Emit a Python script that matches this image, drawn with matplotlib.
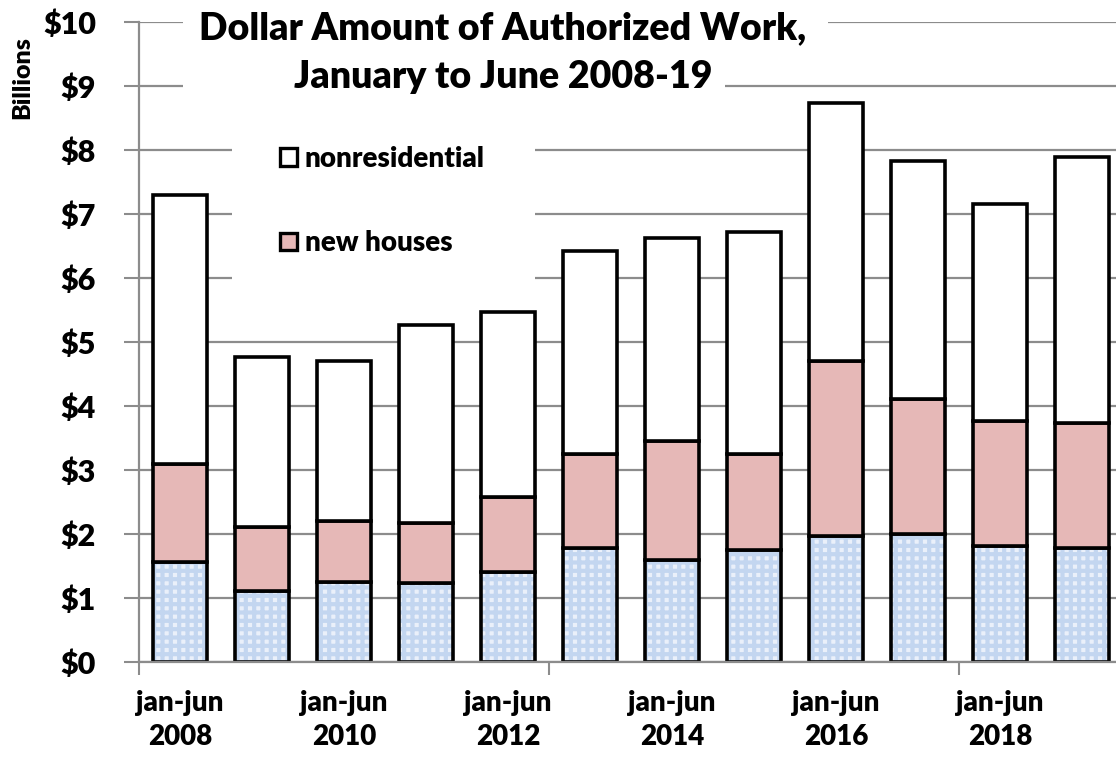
import matplotlib
matplotlib.use("Agg")
import matplotlib.pyplot as plt
from matplotlib.patches import Rectangle, Patch

plt.rcParams['font.family'] = ['Lato', 'DejaVu Sans']
plt.rcParams['font.weight'] = 'heavy'
plt.rcParams['hatch.linewidth'] = 3.0

# Jan-Jun authorized work, $ billions
years = list(range(2008, 2020))
additions = [1.56, 1.11, 1.25, 1.23, 1.41, 1.78, 1.59, 1.75, 1.97, 2.00, 1.81, 1.78]
new_houses = [1.53, 1.00, 0.95, 0.94, 1.17, 1.47, 1.86, 1.50, 2.73, 2.11, 1.96, 1.95]
nonresidential = [4.21, 2.66, 2.50, 3.10, 2.89, 3.17, 3.18, 3.47, 4.03, 3.72, 3.39, 4.16]
tick_labels = [f"jan-jun\n{y}" if y % 2 == 0 else "" for y in years]

W, H = 1116, 759
fig = plt.figure(figsize=(W / 100, H / 100), dpi=100)
ax = fig.add_axes([139 / W, 1 - 662 / H, (W - 139) / W, (662 - 22) / H])

x = list(range(len(years)))
bw = 0.66
pink_bottom = additions
nonres_bottom = [a + n for a, n in zip(additions, new_houses)]

# patterned bottom segment
ax.bar(x, additions, bw, color='#eaf0fa', edgecolor='#c3d6f0', hatch='++', linewidth=0, zorder=2)
ax.bar(x, additions, bw, fill=False, edgecolor='black', linewidth=2.6, zorder=3)
ax.bar(x, new_houses, bw, bottom=pink_bottom, color='#e6b8b7', edgecolor='black', linewidth=2.6, zorder=3)
ax.bar(x, nonresidential, bw, bottom=nonres_bottom, color='white', edgecolor='black', linewidth=2.6, zorder=3)

ax.set_xlim(-0.5, -0.5 + (W - 139) / 82)
ax.set_ylim(0, 10)
ax.set_yticks(range(0, 11))
ax.set_yticklabels([f"${v}" for v in range(0, 11)], fontsize=22)
ax.set_xticks(x)
ax.set_xticklabels(tick_labels, fontsize=20, linespacing=1.4)
ax.tick_params(axis='x', length=0, pad=20)
ax.tick_params(axis='y', length=11, width=1.5, color='#8c8c8c', pad=20)
ax.set_xticks([-0.5, 4.5, 9.5], minor=True)
ax.tick_params(axis='x', which='minor', length=9, width=1.5, color='#8c8c8c')
ax.grid(axis='y', color='#8c8c8c', linewidth=1.6, zorder=0)
ax.set_axisbelow(True)
for s in ['top', 'right']:
    ax.spines[s].set_visible(False)
for s in ['left', 'bottom']:
    ax.spines[s].set_color('#8c8c8c')
    ax.spines[s].set_linewidth(1.6)
ax.spines['bottom'].set_zorder(4)

fig.text(22 / W, 1 - 78 / H, 'Billions', rotation=90, ha='center', va='center', fontsize=18)


def mask(x0, y0, x1, y1):
    fig.patches.append(Rectangle((x0 / W, 1 - y1 / H), (x1 - x0) / W, (y1 - y0) / H,
                                 transform=fig.transFigure, facecolor='white',
                                 edgecolor='none', zorder=1.5))


# white backgrounds behind title and legend
mask(183, 0, 828, 60)
mask(183, 60, 725, 100)
mask(232, 115, 535, 300)

fig.text(503 / W, 1 - 28 / H, 'Dollar Amount of Authorized Work,', ha='center', va='center',
         fontsize=27, zorder=5)
fig.text(503 / W, 1 - 77 / H, 'January to June 2008-19', ha='center', va='center',
         fontsize=27, zorder=5)

handles = [Patch(facecolor='white', edgecolor='black', linewidth=2.4, label='nonresidential'),
           Patch(facecolor='#e6b8b7', edgecolor='black', linewidth=2.4, label='new houses')]
leg = fig.legend(handles=handles, loc='upper left', bbox_to_anchor=(266 / W, 1 - 132 / H),
                 frameon=False, fontsize=20, handlelength=0.6, handleheight=0.6,
                 handletextpad=0.3, labelspacing=2.1, borderpad=0)
leg.set_zorder(5)

fig.savefig('out.png', dpi=100)
